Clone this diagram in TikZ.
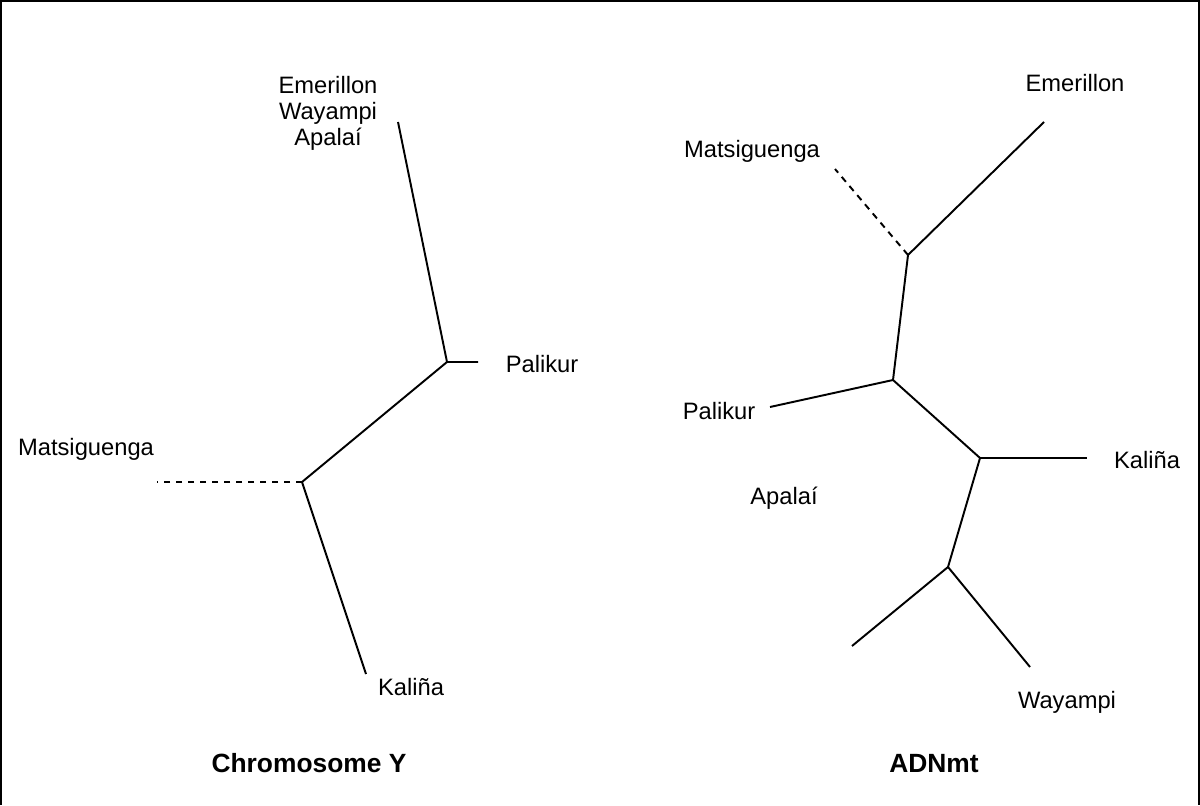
\documentclass[tikz,border=0pt]{standalone}
\usepackage{fontspec}
\setmainfont{Liberation Sans}
\usepackage{tikz}
\tikzset{
  branch/.style={line width=1.1pt},
  unsure/.style={line width=1.1pt, dash pattern=on 0.13cm off 0.11cm},
  taxon/.style={anchor=base, inner sep=0pt, align=center,
    font=\fontsize{13.5}{14.8}\selectfont},
  treename/.style={anchor=base, inner sep=0pt,
    font=\fontsize{15}{18}\selectfont\bfseries}
}

\begin{document}
\begin{tikzpicture}[scale=1]
  \useasboundingbox (0, 0) rectangle (24, 16.1);
  \draw[line width=1.1pt] (0.02, 0) -- (0.02, 16.08) -- (23.98, 16.08) -- (23.98, 0);

  % Chromosome Y
  \begin{scope}[shift={(0, 0)}]
    \coordinate (topY) at (7.96, 13.66);
    \coordinate (palnodeY) at (8.94, 8.86);
    \coordinate (palY) at (9.56, 8.86);
    \coordinate (rootY) at (6.04, 6.46);
    \coordinate (matY) at (3.14, 6.46);
    \coordinate (kalY) at (7.32, 2.62);

    \draw[branch] (topY) -- (palnodeY) -- (palY);
    \draw[branch] (palnodeY) -- (rootY) -- (kalY);
    \draw[unsure] (rootY) -- (matY);

    % base of a multi-line node = baseline of its last line
    \node[taxon] (grpYlab) at (6.56, 13.18) {Emerillon\\Wayampi\\Apalaí};
    \node[taxon] (palYlab) at (10.84, 8.66) {Palikur};
    \node[taxon] (matYlab) at (1.72, 7.0) {Matsiguenga};
    \node[taxon] (kalYlab) at (8.22, 2.2) {Kaliña};

    \node[treename] (titleY) at (6.18, 0.66) {Chromosome Y};
  \end{scope}

  % ADNmt
  \begin{scope}[shift={(0, 0)}]
    \coordinate (emeMt) at (20.88, 13.66);
    \coordinate (aMt) at (18.16, 11.0);
    \coordinate (matMt) at (16.7, 12.72);
    \coordinate (bMt) at (17.86, 8.5);
    \coordinate (palMt) at (15.4, 7.96);
    \coordinate (cMt) at (19.6, 6.94);
    \coordinate (kalMt) at (21.74, 6.94);
    \coordinate (dMt) at (18.96, 4.76);
    \coordinate (apaMt) at (17.04, 3.18);
    \coordinate (wayMt) at (20.6, 2.76);

    \draw[branch] (emeMt) -- (aMt) -- (bMt) -- (cMt) -- (dMt);
    \draw[branch] (palMt) -- (bMt);
    \draw[branch] (cMt) -- (kalMt);
    \draw[branch] (apaMt) -- (dMt) -- (wayMt);
    \draw[unsure] (aMt) -- (matMt);

    \node[taxon] (emeMtlab) at (21.5, 14.26) {Emerillon};
    \node[taxon] (matMtlab) at (15.04, 12.94) {Matsiguenga};
    \node[taxon] (palMtlab) at (14.38, 7.72) {Palikur};
    \node[taxon] (kalMtlab) at (22.94, 6.74) {Kaliña};
    \node[taxon] (apaMtlab) at (15.68, 6.02) {Apalaí};
    \node[taxon] (wayMtlab) at (21.34, 1.94) {Wayampi};

    \node[treename] (titleMt) at (18.68, 0.66) {ADNmt};
  \end{scope}
\end{tikzpicture}
\end{document}
